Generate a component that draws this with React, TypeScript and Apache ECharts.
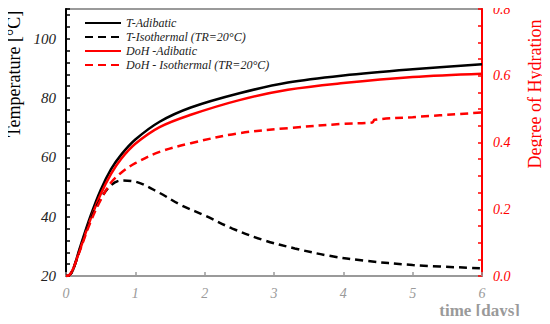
import React, { useEffect, useRef } from "react";
import * as echarts from "echarts";

const tAdiabatic: [number, number][] = [
  [0, 20], [0.05, 20.3], [0.1, 22], [0.2, 29.5], [0.35, 40], [0.5, 49], [0.65, 56],
  [0.8, 61], [1.0, 66], [1.35, 72], [1.8, 76.8], [2.5, 81.6], [3.2, 85.2], [4.0, 87.6],
  [5.0, 89.7], [6.0, 91.4],
];
const tIsothermal: [number, number][] = [
  [0, 20], [0.05, 20.3], [0.1, 22], [0.2, 29], [0.35, 38.8], [0.5, 46], [0.65, 50.6],
  [0.8, 52.2], [1.0, 51.8], [1.35, 48], [1.65, 44], [2.0, 40.4], [2.4, 36], [2.85, 32.1],
  [3.3, 29.3], [3.8, 26.8], [4.3, 25.2], [5.0, 23.7], [6.0, 22.6],
];
const dohAdiabatic: [number, number][] = [
  [0, 0], [0.05, 0.003], [0.1, 0.02], [0.2, 0.078], [0.35, 0.168], [0.5, 0.245],
  [0.65, 0.306], [0.8, 0.352], [1.0, 0.396], [1.35, 0.446], [1.8, 0.483], [2.5, 0.527],
  [3.2, 0.558], [4.0, 0.578], [5.0, 0.596], [6.0, 0.606],
];
const dohIsothermal: [number, number][] = [
  [0, 0], [0.05, 0.003], [0.1, 0.02], [0.2, 0.076], [0.35, 0.16], [0.5, 0.228],
  [0.65, 0.28], [0.8, 0.31], [1.0, 0.338], [1.35, 0.372], [1.8, 0.398], [2.5, 0.428],
  [3.2, 0.443], [4.0, 0.456], [4.42, 0.46], [4.45, 0.468], [5.0, 0.476], [6.0, 0.49],
];

const seriesNames = [
  "T-Adibatic",
  "T-Isothermal (TR=20°C)",
  "DoH -Adibatic",
  "DoH - Isothermal (TR=20°C)",
];

const leftTitle = "Temperature [°C]";
const rightTitle = "Degree of Hydration";
const xTitle = "time [days]";

const FONT = "Liberation Serif";
const GRAY = "#9a9a9a";
const RED = "#ff0000";

export default function App() {
  const ref = useRef<HTMLDivElement>(null);
  useEffect(() => {
    if (!ref.current) return;
    const chart = echarts.init(ref.current, undefined, { renderer: "svg" });
    const mk = (name: string, data: [number, number][], color: string, dashed: boolean, yi: number) => ({
      name,
      type: "line",
      data,
      yAxisIndex: yi,
      smooth: 0.35,
      showSymbol: false,
      symbol: "none",
      lineStyle: { color, width: 2.5, type: dashed ? [8, 5] : "solid" },
      itemStyle: { color },
      z: dashed ? 3 : 2,
    });
    chart.setOption({
      animation: false,
      textStyle: { fontFamily: FONT },
      grid: {
        left: 66, right: 68, top: 9, bottom: 48,
        show: true, borderColor: GRAY, borderWidth: 2,
      },
      legend: {
        orient: "vertical",
        left: 84,
        top: 16,
        padding: 0,
        itemWidth: 36,
        itemHeight: 8,
        itemGap: 0,
        itemStyle: { opacity: 0 },
        textStyle: { fontFamily: FONT, fontStyle: "italic", fontSize: 12, lineHeight: 14, color: "#222" },
        data: seriesNames,
      },
      xAxis: {
        type: "value",
        min: 0, max: 6, interval: 1,
        axisLine: { show: true, lineStyle: { color: GRAY, width: 2 } },
        axisTick: { show: true, inside: true, length: 4, lineStyle: { color: GRAY, width: 1.5 } },
        axisLabel: { color: GRAY, fontStyle: "italic", fontSize: 14, fontFamily: FONT, margin: 10 },
        splitLine: { show: false },
      },
      yAxis: [
        {
          type: "value",
          min: 20, max: 110, interval: 20,
          axisLine: { show: true, onZero: false, lineStyle: { color: "#000", width: 2 } },
          axisTick: { show: true, inside: true, length: 4, lineStyle: { color: "#000", width: 1.5 } },
          minorTick: { show: true, splitNumber: 5, length: 4, lineStyle: { color: "#000", width: 1.5 } },
          axisLabel: {
            color: "#222", fontStyle: "italic", fontSize: 15, fontFamily: FONT, margin: 10,
            formatter: (v: number) => (v > 100 ? "" : String(v)),
          },
          splitLine: { show: false },
        },
        {
          type: "value",
          min: 0, max: 0.8, interval: 0.2,
          axisLine: { show: true, onZero: false, lineStyle: { color: RED, width: 2 } },
          axisTick: { show: true, inside: true, length: 4, lineStyle: { color: RED, width: 1.5 } },
          minorTick: { show: true, splitNumber: 4, length: 4, lineStyle: { color: RED, width: 1.5 } },
          axisLabel: {
            color: RED, fontStyle: "italic", fontSize: 14, fontFamily: FONT, margin: 11,
            formatter: (v: number) => v.toFixed(1),
          },
          splitLine: { show: false },
        },
      ],
      graphic: [
        {
          type: "text",
          x: 14,
          y: 74,
          rotation: Math.PI / 2,
          style: {
            text: leftTitle, fill: "#000", fontSize: 18, fontFamily: FONT,
            align: "center", verticalAlign: "middle",
          },
        },
        {
          type: "text",
          x: 535,
          y: 94,
          rotation: Math.PI / 2,
          style: {
            text: rightTitle, fill: RED, fontSize: 18, fontFamily: FONT,
            align: "center", verticalAlign: "middle",
          },
        },
        {
          type: "text",
          right: 30,
          top: 302,
          style: {
            text: xTitle, fill: GRAY, fontSize: 17, fontWeight: "bold", fontFamily: FONT,
          },
        },
      ],
      series: [
        mk(seriesNames[0], tAdiabatic, "#000", false, 0),
        mk(seriesNames[1], tIsothermal, "#000", true, 0),
        mk(seriesNames[2], dohAdiabatic, RED, false, 1),
        mk(seriesNames[3], dohIsothermal, RED, true, 1),
      ],
    });
    return () => chart.dispose();
  }, []);
  return <div ref={ref} style={{ width: 550, height: 324, margin: -8 }} />;
}
